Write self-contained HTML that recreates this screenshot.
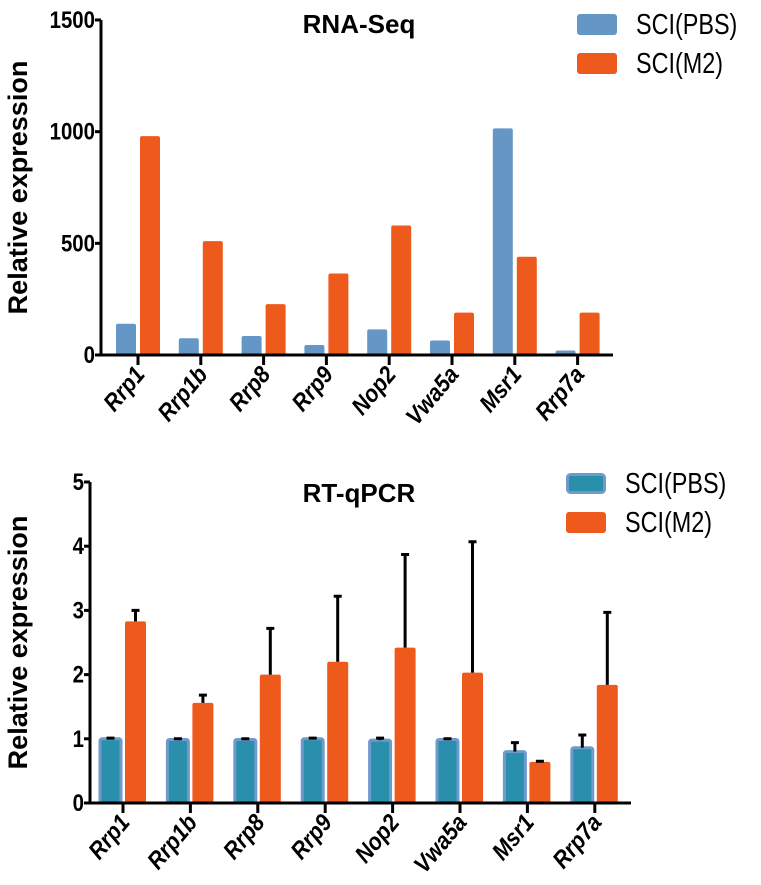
<!DOCTYPE html>
<html><head><meta charset="utf-8"><style>
body{margin:0;background:#fff}
svg{display:block}
text{font-family:"Liberation Sans",Arial,sans-serif}
</style></head><body>
<svg id="chart" width="761" height="885"></svg>
<script>
const categories=["Rrp1","Rrp1b","Rrp8","Rrp9","Nop2","Vwa5a","Msr1","Rrp7a"];
const seqPBS=[140,75,85,45,115,65,1015,20];
const seqM2=[980,510,228,365,580,190,440,190];
const seqTicks=[0,500,1000,1500];
const pcrPBS=[1,0.99,0.99,1,0.98,0.99,0.8,0.86];
const pcrPBSErr=[0.01,0.01,0.01,0.01,0.03,0.01,0.14,0.2];
const pcrM2=[2.83,1.56,2.0,2.2,2.42,2.03,0.64,1.84];
const pcrM2Err=[0.17,0.12,0.72,1.02,1.45,2.04,0.01,1.13];
const pcrTicks=[0,1,2,3,4,5];
const legendLabels=["SCI(PBS)","SCI(M2)"];

const NS="http://www.w3.org/2000/svg";
const svg=document.getElementById('chart');
function mk(tag,attrs,parent,txt){const e=document.createElementNS(NS,tag);for(const k in attrs)e.setAttribute(k,attrs[k]);if(txt!==undefined)e.textContent=txt;(parent||svg).appendChild(e);return e;}

function drawChart(o){
  const g=mk('g',{});
  
  
  const y=v=>o.y0-(v/o.ymax)*(o.y0-o.yTop);
  const xc=i=>o.x1+o.step*i;
  o.pbs.forEach((v,i)=>{
    const r=mk('rect',{x:xc(i)-o.bw-2,y:y(v),width:o.bw,height:o.y0-y(v),fill:o.pbsFill,stroke:o.pbsStroke||'none','stroke-width':o.pbsStroke?3:0,rx:2},g);
    
    
    if(o.pbsErr){const t=y(v+o.pbsErr[i]);
      const e=mk('path',{d:`M${xc(i)-o.bw/2-2},${y(v)}V${t}M${xc(i)-o.bw/2-6},${t}h8`,stroke:'#000','stroke-width':3,fill:'none'},g);
      
      }
  });
  o.m2.forEach((v,i)=>{
    const r=mk('rect',{x:xc(i)+2,y:y(v),width:o.bw,height:o.y0-y(v),fill:'#ee5a1c',rx:2},g);
    
    
    if(o.m2Err){const t=y(v+o.m2Err[i]);
      const e=mk('path',{d:`M${xc(i)+2+o.bw/2},${y(v)}V${t}M${xc(i)+o.bw/2-2},${t}h8`,stroke:'#000','stroke-width':3,fill:'none'},g);
      
      }
  });
  const ax=mk('path',{d:`M${o.ax},${o.yTop}V${o.y0}H${o.axEnd}`,stroke:'#000','stroke-width':3,fill:'none'},g);
  
  
  o.ticks.forEach(t=>{
    mk('line',{x1:o.ax-6,x2:o.ax,y1:y(t),y2:y(t),stroke:'#000','stroke-width':3},g);
    const tl=mk('text',{transform:`translate(${o.ax-6},${y(t)+8}) scale(0.85,1)`,'text-anchor':'end','font-size':24,'font-weight':'bold'},g,t);
    
    
  });
  categories.forEach((c,i)=>{
    mk('line',{x1:xc(i),x2:xc(i),y1:o.y0,y2:o.y0+10,stroke:'#000','stroke-width':3},g);
    const tl=mk('text',{transform:`translate(${xc(i)+8},${o.y0+20}) rotate(-50) scale(0.9,1)`,'text-anchor':'end','font-size':24,'font-weight':'bold','font-style':'italic'},g,c);
    
    
  });
  const yl=mk('text',{transform:`translate(${o.ylx},${(o.yTop+o.y0)/2}) rotate(-90)`,'text-anchor':'middle','font-size':27,'font-weight':'bold'},g,'Relative expression');
  
  
  const ti=mk('text',{x:359,y:o.titleY,'text-anchor':'middle','font-size':26,'font-weight':'bold'},g,o.title);
  
  
  [[o.pbsFill,o.pbsStroke],['#ee5a1c',null]].forEach((f,k)=>{
    const r=mk('rect',{x:o.lx+(f[1]?1.5:0),y:o.ly+k*o.lgap+(f[1]?1.5:0),width:40-(f[1]?3:0),height:21-(f[1]?3:0),rx:3,fill:f[0],stroke:f[1]||'none','stroke-width':f[1]?3:0},g);
    
    
    const t=mk('text',{transform:`translate(${o.lx+59},${o.ly+k*o.lgap+20}) scale(0.9,1.1)`,'font-size':26},g,legendLabels[k]);
    
    
  });
}
drawChart({name:'rna-seq-chart',title:'RNA-Seq',titleY:33,pbs:seqPBS,m2:seqM2,ticks:seqTicks,ymax:1500,y0:355,yTop:20,ax:101,axEnd:613,x1:138,step:62.8,bw:20,pbsFill:'#6597c6',ylx:27,lx:577,ly:14,lgap:39});
drawChart({name:'rt-qpcr-chart',title:'RT-qPCR',titleY:502,pbs:pcrPBS,m2:pcrM2,pbsErr:pcrPBSErr,m2Err:pcrM2Err,ticks:pcrTicks,ymax:5,y0:803,yTop:482,ax:90,axEnd:631,x1:123,step:67.4,bw:21,pbsFill:'#2a8fab',pbsStroke:'#6f9bcc',ylx:27,lx:566,ly:473,lgap:39});
</script>
</body></html>
